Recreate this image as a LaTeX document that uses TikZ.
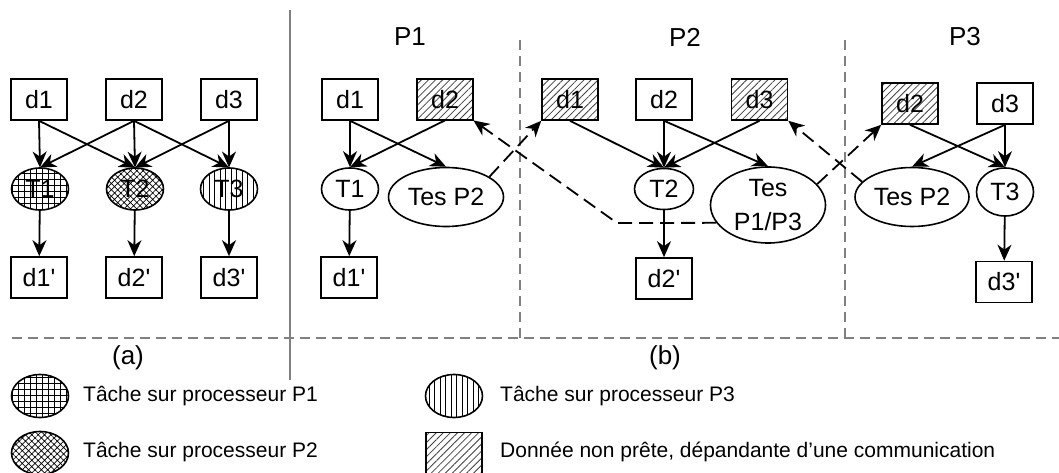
\documentclass[tikz,border=0pt]{standalone}
\usepackage{fontspec}
\setmainfont{Liberation Sans}[Ligatures=TeXOff]
\usetikzlibrary{arrows.meta,shapes.geometric,patterns.meta}

\begin{document}
\begin{tikzpicture}[x=1pt,y=-1pt,
  donnee/.style={draw,line width=1.6pt,minimum width=56pt,minimum height=41pt,inner sep=0pt,font=\fontsize{25}{28}\selectfont},
  attente/.style={donnee,pattern={Lines[angle=45,distance=5pt,line width=0.8pt]},pattern color=black!75},
  tache/.style={draw,ellipse,line width=1.6pt,minimum width=57pt,minimum height=42pt,inner sep=0pt,font=\fontsize{25}{28}\selectfont},
  test/.style={tache,minimum width=115pt,minimum height=59pt},
  grille/.style={pattern={Hatch[angle=0,distance=6pt,line width=0.9pt]}},
  croix/.style={pattern={Hatch[angle=45,distance=4.5pt,line width=0.7pt]}},
  barres/.style={pattern={Lines[angle=90,distance=5.5pt,line width=0.9pt]}},
  fl/.style={-{Stealth[length=16pt,width=14pt,inset=5pt]},line width=1.8pt},
  comm/.style={fl,dash pattern=on 14pt off 7pt},
  sep/.style={gray,line width=1.2pt,dash pattern=on 10pt off 6pt},
  titre/.style={font=\fontsize{26}{29}\selectfont},
  leg/.style={anchor=west,inner sep=0pt,font=\fontsize{21}{24}\selectfont}]
\useasboundingbox (0,0) rectangle (1059,473);
\draw[sep] (12,338) -- (1059,338);
\draw[sep] (520,40) -- (520,338);
\draw[sep] (845,40) -- (845,338);
\draw[gray,line width=1.2pt] (290,10) -- (290,380);
\node[titre] (ti-p1) at (410,37) {P1};
\node[titre] (ti-p2) at (685,37) {P2};
\node[titre] (ti-p3) at (965,37) {P3};
\node[titre] (ti-a) at (128,358) {(a)};
\node[titre] (ti-b) at (665,358) {(b)};

\node[donnee] (a-d1) at (39,99.5) {d1};
\node[donnee] (a-d2) at (134,99.5) {d2};
\node[donnee] (a-d3) at (229,99.5) {d3};
\node[tache,grille] (a-t1) at (40,189) {T1};
\node[tache,croix] (a-t2) at (135,189) {T2};
\node[tache,barres] (a-t3) at (229,189) {T3};
\node[donnee] (a-r1) at (39,277.5) {d1'};
\node[donnee] (a-r2) at (134,277.5) {d2'};
\node[donnee] (a-r3) at (229,277.5) {d3'};
\draw[fl] (a-d1.south) -- (a-t1.north);
\draw[fl] (a-d1.south) -- (a-t2.north);
\draw[fl] (a-d2.south) -- (a-t1.north);
\draw[fl] (a-d2.south) -- (a-t2.north);
\draw[fl] (a-d2.south) -- (a-t3.north);
\draw[fl] (a-d3.south) -- (a-t2.north);
\draw[fl] (a-d3.south) -- (a-t3.north);
\draw[fl] (a-t1) -- (a-r1);
\draw[fl] (a-t2) -- (a-r2);
\draw[fl] (a-t3) -- (a-r3);

\node[donnee] (p1-d1) at (350,99.5) {d1};
\node[attente] (p1-d2) at (445,99.5) {d2};
\node[tache] (p1-t1) at (350,189) {T1};
\node[test] (p1-tes) at (446,197) {Tes P2};
\node[donnee] (p1-r1) at (349,277.5) {d1'};
\draw[fl] (p1-d1.south) -- (p1-t1.north);
\draw[fl] (p1-d1.south) -- (p1-tes.north);
\draw[fl] (p1-d2.south) -- (p1-t1.north);
\draw[fl] (p1-t1) -- (p1-r1);

\node[attente] (p2-d1) at (570,99.5) {d1};
\node[donnee] (p2-d2) at (664,99.5) {d2};
\node[attente] (p2-d3) at (759.5,99.5) {d3};
\node[tache,minimum width=59pt,minimum height=41pt] (p2-t2) at (664,189) {T2};
\node[test,minimum height=76pt,align=center,font=\fontsize{25}{34}\selectfont] (p2-tes) at (768,205) {Tes\\P1/P3};
\node[donnee] (p2-r2) at (664,278.5) {d2'};
\draw[fl] (p2-d1.south) -- (p2-t2.north);
\draw[fl] (p2-d2.south) -- (p2-t2.north);
\draw[fl] (p2-d3.south) -- (p2-t2.north);
\draw[fl] (p2-d2.south) -- (p2-tes.north);
\draw[fl] (p2-t2) -- (p2-r2);

\node[attente] (p3-d2) at (910,103.5) {d2};
\node[donnee] (p3-d3) at (1005,103.5) {d3};
\node[test,minimum width=114pt] (p3-tes) at (912,197) {Tes P2};
\node[tache,minimum height=48pt] (p3-t3) at (1005,192) {T3};
\node[donnee] (p3-r3) at (1004,282) {d3'};
\draw[fl] (p3-d2.south) -- (p3-t3.north);
\draw[fl] (p3-d3.south) -- (p3-t3.north);
\draw[fl] (p3-d3.south) -- (p3-tes.north);
\draw[fl] (p3-t3) -- (p3-r3);

\coordinate (coude) at (617,223);
\draw[comm] (p1-tes.25) -- (p2-d1.south west);
\draw[comm] (p2-tes.199) -- (coude) -- (p1-d2.south east);
\draw[comm] (p2-tes.23) -- (p3-d2.south west);
\draw[comm] (p3-tes.163) -- (p2-d3.south east);

\node[tache,grille,minimum height=43pt] (l-p1) at (40,396) {};
\node[leg] (l-p1-txt) at (83,396) {Tâche sur processeur P1};
\node[tache,croix,minimum height=43pt] (l-p2) at (40,453) {};
\node[leg] (l-p2-txt) at (83,452) {Tâche sur processeur P2};
\node[tache,barres,minimum height=43pt] (l-p3) at (454,396) {};
\node[leg] (l-p3-txt) at (500,396) {Tâche sur processeur P3};
\node[attente] (l-at) at (454,453) {};
\node[leg] (l-at-txt) at (500,452) {Donnée non prête, dépandante d’une communication};
\end{tikzpicture}
\end{document}
